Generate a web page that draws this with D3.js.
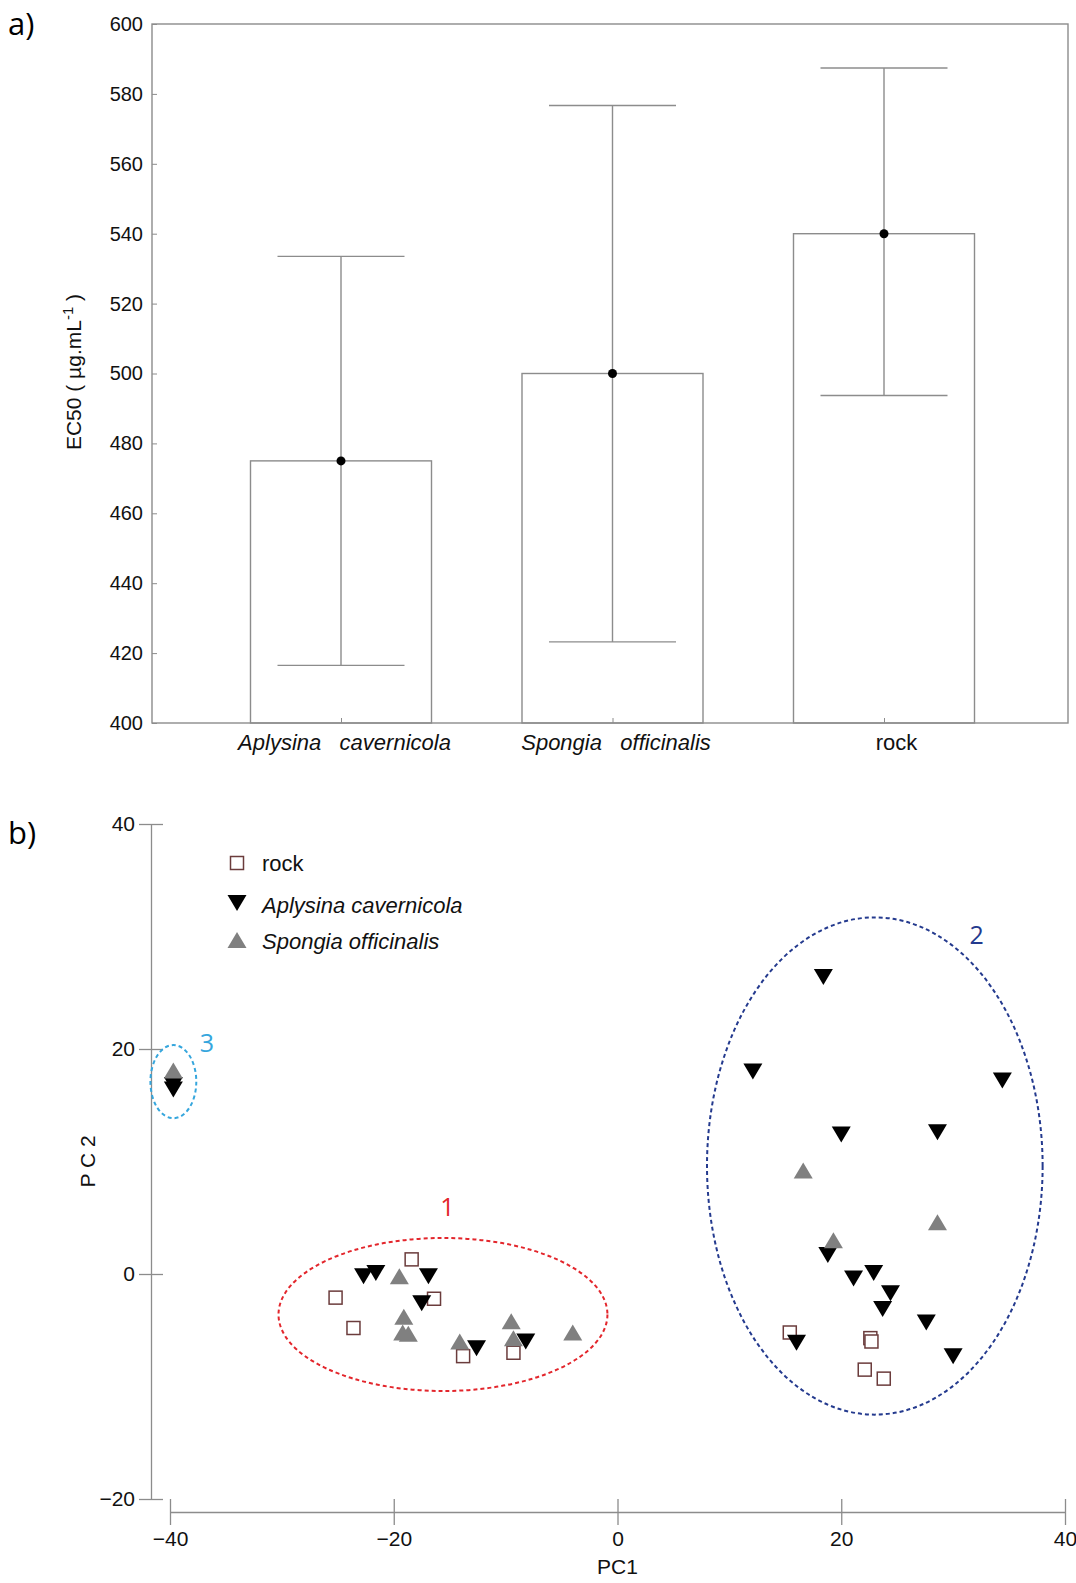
<!DOCTYPE html>
<html>
<head>
<meta charset="utf-8">
<script src="https://cdn.jsdelivr.net/npm/d3@7"></script>
<style>
  body { margin: 0; background: #fff; }
  svg { display: block; font-family: "Liberation Sans", Arial, sans-serif; }
</style>
</head>
<body>
<div id="chart"></div>
<script>
// ---- panel a) data ----
var categories = ["Aplysina\u00a0\u00a0\u00a0cavernicola", "Spongia\u00a0\u00a0\u00a0officinalis", "rock"];
var catItalic = [true, true, false];
var ec50Mean = [475, 500, 540];
var ec50Low = [416.5, 423.2, 493.7];
var ec50High = [533.5, 576.7, 587.4];
var ec50Ticks = [400, 420, 440, 460, 480, 500, 520, 540, 560, 580, 600];

// ---- panel b) data (PC1, PC2) ----
var rockPts = [[-18.4, 1.3], [-25.2, -2.1], [-16.4, -2.2], [-23.6, -4.8], [-13.8, -7.3], [-9.3, -7.0],
  [15.4, -5.2], [22.6, -5.7], [22.7, -6.0], [22.1, -8.5], [23.8, -9.3]];
var aplysinaPts = [[-39.7, 16.8], [-39.7, 16.4],
  [-22.7, -0.2], [-21.6, 0.1], [-16.9, -0.2], [-17.5, -2.6], [-12.6, -6.6], [-8.2, -6.0],
  [18.4, 26.4], [12.1, 18.0], [34.4, 17.2], [20.0, 12.4], [28.6, 12.6], [18.8, 1.7], [21.1, -0.4],
  [22.9, 0.1], [24.4, -1.7], [23.7, -3.1], [27.6, -4.3], [16.0, -6.1], [30.0, -7.3]];
var spongiaPts = [[-39.7, 18.1],
  [-19.5, -0.2], [-19.1, -3.8], [-19.2, -5.2], [-18.7, -5.3], [-14.1, -6.0], [-9.5, -4.2], [-9.3, -5.7], [-4.0, -5.2],
  [16.6, 9.2], [28.6, 4.6], [19.3, 3.0]];
var pcXTicks = [-40, -20, 0, 20, 40];
var pcYTicks = [-20, 0, 20, 40];

// clusters: centre, radii (data units), label position
var clusterNames = ["1", "2", "3"];
var clusterCx = [-15.6, 23.0, -39.7];
var clusterCy = [-3.6, 9.6, 17.1];
var clusterRx = [14.7, 15.0, 2.05];
var clusterRy = [6.8, 22.1, 3.25];
var clusterLabX = [-15.2, 32.1, -36.7];
var clusterLabY = [5.9, 30.1, 20.5];
var clusterColors = ["#e3262c", "#243a8e", "#35a6dd"];

var axisGrey = "#8c8c8c";

var svg = d3.select("#chart").append("svg")
  .attr("width", 1076)
  .attr("height", 1583);

// ================= panel a =================
var frameA = {left: 152, right: 1068, top: 24, bottom: 723};

var yA = d3.scaleLinear().domain([400, 600]).range([frameA.bottom, frameA.top]);
var xA = d3.scalePoint().domain(categories).range([341, 884]);
var barW = 181, capW = 127;

svg.append("text")
  .attr("x", 8).attr("y", 35)
  .style("font-family", "'Open Sans', sans-serif")
  .style("font-size", "31px")
  .text("a)");

// bars
svg.selectAll(".bar")
  .data(categories)
  .enter()
  .append("rect")
    .attr("x", function(d) { return xA(d) - barW / 2; })
    .attr("y", function(d, i) { return yA(ec50Mean[i]); })
    .attr("width", barW)
    .attr("height", function(d, i) { return yA(400) - yA(ec50Mean[i]); })
    .attr("fill", "#fff")
    .attr("stroke", axisGrey)
    .attr("stroke-width", 1.4);

// error bars
var err = svg.append("g").attr("stroke", axisGrey).attr("stroke-width", 1.4);
categories.forEach(function(c, i) {
  err.append("line")
    .attr("x1", xA(c)).attr("x2", xA(c))
    .attr("y1", yA(ec50Low[i])).attr("y2", yA(ec50High[i]));
  err.append("line")
    .attr("x1", xA(c) - capW / 2).attr("x2", xA(c) + capW / 2)
    .attr("y1", yA(ec50High[i])).attr("y2", yA(ec50High[i]));
  err.append("line")
    .attr("x1", xA(c) - capW / 2).attr("x2", xA(c) + capW / 2)
    .attr("y1", yA(ec50Low[i])).attr("y2", yA(ec50Low[i]));
});

svg.selectAll(".mean")
  .data(categories)
  .enter()
  .append("circle")
    .attr("cx", function(d) { return xA(d); })
    .attr("cy", function(d, i) { return yA(ec50Mean[i]); })
    .attr("r", 4.5)
    .attr("fill", "#000");

// frame
svg.append("rect")
  .attr("x", frameA.left).attr("y", frameA.top)
  .attr("width", frameA.right - frameA.left)
  .attr("height", frameA.bottom - frameA.top)
  .attr("fill", "none")
  .attr("stroke", axisGrey)
  .attr("stroke-width", 1.4);

var yAxisA = svg.append("g")
  .attr("transform", "translate(" + frameA.left + ",0)")
  .call(d3.axisLeft(yA).tickValues(ec50Ticks).tickSize(-5).tickSizeOuter(0).tickPadding(9).tickFormat(d3.format("d")));
yAxisA.select(".domain").remove();
yAxisA.selectAll("line").attr("stroke", axisGrey);
yAxisA.selectAll("text").style("font-size", "20px").attr("fill", "#111");

var xAxisA = svg.append("g")
  .attr("transform", "translate(0," + frameA.bottom + ")")
  .call(d3.axisBottom(xA).tickSize(-5).tickSizeOuter(0).tickPadding(11));
xAxisA.select(".domain").remove();
xAxisA.selectAll("line").attr("stroke", axisGrey);
xAxisA.selectAll("text")
  .attr("dx", function(d, i) { return i === 2 ? 12 : 3; })
  .style("font-size", "22px")
  .style("font-style", function(d, i) { return catItalic[i] ? "italic" : "normal"; })
  .attr("fill", "#111");

var yTitle = svg.append("text")
  .attr("transform", "translate(81,372) rotate(-90)")
  .attr("text-anchor", "middle")
  .style("font-size", "21px")
  .attr("fill", "#111");
yTitle.append("tspan").text("EC50 ( \u00b5g.mL");
yTitle.append("tspan").attr("dy", -8).style("font-size", "15px").text("-1");
yTitle.append("tspan").attr("dy", 8).text(" )");

// ================= panel b =================
var xB = d3.scaleLinear().domain([-40, 40]).range([170, 1065]);
var yB = d3.scaleLinear().domain([-20, 40]).range([1499, 824]);

svg.append("text")
  .attr("x", 8).attr("y", 844)
  .style("font-family", "'Open Sans', sans-serif")
  .style("font-size", "31px")
  .text("b)");

var yAxisB = svg.append("g")
  .attr("transform", "translate(151,0)")
  .call(d3.axisLeft(yB).tickValues(pcYTicks).tickSize(12).tickSizeOuter(0).tickPadding(4));
yAxisB.select(".domain").attr("stroke", axisGrey).attr("stroke-width", 1.3);
yAxisB.selectAll(".tick line").attr("x1", 12).attr("stroke", axisGrey).attr("stroke-width", 1.3);
yAxisB.selectAll("text").style("font-size", "21px").attr("fill", "#111");

var xAxisB = svg.append("g")
  .attr("transform", "translate(0,1512)")
  .call(d3.axisBottom(xB).tickValues(pcXTicks).tickSize(13).tickSizeOuter(0).tickPadding(6));
xAxisB.select(".domain").attr("stroke", axisGrey).attr("stroke-width", 1.3);
xAxisB.selectAll(".tick line").attr("y1", -13).attr("stroke", axisGrey).attr("stroke-width", 1.3);
xAxisB.selectAll("text").style("font-size", "21px").attr("fill", "#111");

svg.append("text")
  .attr("x", xB(0)).attr("y", 1574)
  .attr("text-anchor", "middle")
  .style("font-size", "21px")
  .attr("fill", "#111")
  .text("PC1");

svg.append("text")
  .attr("transform", "translate(95," + yB(10) + ") rotate(-90)")
  .attr("text-anchor", "middle")
  .style("font-size", "21px")
  .attr("fill", "#111")
  .text("P C 2");

// cluster ellipses
svg.selectAll(".cluster")
  .data(clusterNames)
  .enter()
  .append("ellipse")
    .attr("cx", function(d, i) { return xB(clusterCx[i]); })
    .attr("cy", function(d, i) { return yB(clusterCy[i]); })
    .attr("rx", function(d, i) { return xB(clusterRx[i]) - xB(0); })
    .attr("ry", function(d, i) { return yB(0) - yB(clusterRy[i]); })
    .attr("fill", "none")
    .attr("stroke", function(d, i) { return clusterColors[i]; })
    .attr("stroke-width", 2)
    .attr("stroke-dasharray", "4,3");

svg.selectAll(".clab")
  .data(clusterNames)
  .enter()
  .append("text")
    .attr("x", function(d, i) { return xB(clusterLabX[i]); })
    .attr("y", function(d, i) { return yB(clusterLabY[i]); })
    .attr("dy", "0.35em")
    .attr("text-anchor", "middle")
    .style("font-family", "'Open Sans', sans-serif")
    .style("font-size", "25px")
    .attr("fill", function(d, i) { return clusterColors[i]; })
    .text(function(d) { return d; });

// markers
var triUp = "M0,-8L9.5,8L-9.5,8Z";
var triDown = "M0,8L9.5,-8L-9.5,-8Z";

svg.selectAll(".rock")
  .data(rockPts)
  .enter()
  .append("rect")
    .attr("x", function(d) { return xB(d[0]) - 6.5; })
    .attr("y", function(d) { return yB(d[1]) - 6.5; })
    .attr("width", 13).attr("height", 13)
    .attr("fill", "#fff")
    .attr("stroke", "#6b3c3c")
    .attr("stroke-width", 1.5);

svg.selectAll(".aply")
  .data(aplysinaPts)
  .enter()
  .append("path")
    .attr("d", triDown)
    .attr("transform", function(d) { return "translate(" + xB(d[0]) + "," + yB(d[1]) + ")"; })
    .attr("fill", "#000");

svg.selectAll(".spon")
  .data(spongiaPts)
  .enter()
  .append("path")
    .attr("d", triUp)
    .attr("transform", function(d) { return "translate(" + xB(d[0]) + "," + yB(d[1]) + ")"; })
    .attr("fill", "#808080");

// legend
var legend = svg.append("g").attr("transform", "translate(237,863)");
legend.append("rect")
  .attr("x", -6.5).attr("y", -6.5).attr("width", 13).attr("height", 13)
  .attr("fill", "#fff").attr("stroke", "#6b3c3c").attr("stroke-width", 1.5);
legend.append("path").attr("d", triDown).attr("transform", "translate(0,40)").attr("fill", "#000");
legend.append("path").attr("d", triUp).attr("transform", "translate(0,77)").attr("fill", "#808080");

var legLabels = ["rock", "Aplysina cavernicola", "Spongia officinalis"];
var legItalic = [false, true, true];
var legY = [0, 42, 78];
legend.selectAll(".legtext")
  .data(legLabels)
  .enter()
  .append("text")
    .attr("x", 25)
    .attr("y", function(d, i) { return legY[i]; })
    .attr("dy", "0.35em")
    .style("font-size", "22px")
    .style("font-style", function(d, i) { return legItalic[i] ? "italic" : "normal"; })
    .attr("fill", "#111")
    .text(function(d) { return d; });
</script>
</body>
</html>
